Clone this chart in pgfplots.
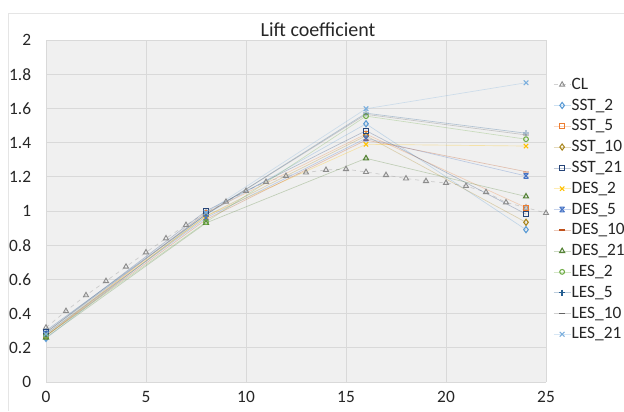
\documentclass[border=0pt]{standalone}
\usepackage{pgfplots}
\pgfplotsset{compat=1.18}
\usepackage{fontspec}
\setmainfont{Carlito}
\definecolor{cCL}{HTML}{A5A5A5}
\definecolor{cS2}{HTML}{5B9BD5}
\definecolor{cS5}{HTML}{ED7D31}
\definecolor{cS10}{HTML}{A8841A}
\definecolor{cS21}{HTML}{264478}
\definecolor{cD2}{HTML}{FFC000}
\definecolor{cD5}{HTML}{4472C4}
\definecolor{cD10}{HTML}{C0501A}
\definecolor{cD21}{HTML}{548235}
\definecolor{cL2}{HTML}{70AD47}
\definecolor{cL5}{HTML}{255E91}
\definecolor{cL10}{HTML}{636363}
\definecolor{cL21}{HTML}{7CAFDD}
\pgfdeclareplotmark{hourglass}{%
  \pgfpathmoveto{\pgfqpoint{-\pgfplotmarksize}{\pgfplotmarksize}}%
  \pgfpathlineto{\pgfqpoint{\pgfplotmarksize}{-\pgfplotmarksize}}%
  \pgfpathmoveto{\pgfqpoint{\pgfplotmarksize}{\pgfplotmarksize}}%
  \pgfpathlineto{\pgfqpoint{-\pgfplotmarksize}{-\pgfplotmarksize}}%
  \pgfpathmoveto{\pgfqpoint{-\pgfplotmarksize}{\pgfplotmarksize}}%
  \pgfpathlineto{\pgfqpoint{\pgfplotmarksize}{\pgfplotmarksize}}%
  \pgfpathmoveto{\pgfqpoint{-\pgfplotmarksize}{-\pgfplotmarksize}}%
  \pgfpathlineto{\pgfqpoint{\pgfplotmarksize}{-\pgfplotmarksize}}%
  \pgfusepathqstroke}
\pgfplotsset{
  ser/.style 2 args={color=#1, line width=0.5pt, draw opacity=0.3,
    mark=#2, mark options={solid, draw opacity=1, fill=white, line width=0.8pt}},
  every axis title shift/.style={},
}
\begin{document}
\begin{tikzpicture}
\path[use as bounding box] (-34.5pt,-21.75pt) rectangle (433.5pt,286.5pt);
\draw[black!10, line width=0.6pt] (-28.5pt,-21.75pt) -- (-28.5pt,276.75pt) -- (433.5pt,276.75pt);
\begin{axis}[
  scale only axis, width=375pt, height=256.5pt,
  xmin=0, xmax=25, ymin=0, ymax=2,
  xtick={0,5,...,25}, ytick={0,0.2,...,2.01},
  grid=major, major grid style={black!15, line width=0.6pt},
  axis line style={draw=none}, major tick length=0pt,
  axis background/.style={fill=black!6},
  /pgf/number format/assume math mode=true,
  tick label style={font=\fontsize{13}{15}\selectfont, text=black!85},
  yticklabel style={anchor=east, inner sep=0pt, xshift=-11pt},
  xticklabel style={anchor=north, inner sep=0pt, yshift=-6.8pt},
  title={Lift coefficient},
  title style={at={(0.544,1.035)}, anchor=center, inner sep=0pt, yshift=-7.5pt,
    font=\fontsize{15}{18}\selectfont, text=black!85},
  legend style={at={(1.014,0.9006)}, anchor=north west, draw=none, fill=none,
    font=\fontsize{13}{15}\selectfont, text=black!85, row sep=0pt, column sep=0pt,
    inner sep=0pt,
    nodes={inner ysep=1.3pt, inner xsep=0.5pt, text height=10pt, text depth=3pt}},
  legend cell align=left,
  legend image code/.code={\draw[#1, mark=none] (0pt,0pt) -- (12.75pt,0pt);
    \draw[#1, draw opacity=1] plot coordinates {(6.4pt,0pt)};},
]
\addplot[color=cCL, line width=0.5pt, draw opacity=0.5, dashed, mark=triangle,
  mark options={solid, draw opacity=1, draw=black!45, fill=white, line width=0.7pt}, mark size=2.2pt]
coordinates {(0,0.318)(1,0.415)(2,0.507)(3,0.59)(4,0.674)(5,0.758)(6,0.84)(7,0.918)(8,0.99)(9,1.054)(10,1.117)(11,1.17)(12,1.205)(13,1.225)(14,1.24)(15,1.245)(16,1.228)(17,1.21)(18,1.19)(19,1.175)(20,1.164)(21,1.146)(22,1.11)(23,1.05)(24,1.02)(25,0.988)};
\addlegendentry{CL}
\addplot[ser={cS2}{diamond}, mark size=2.3pt] coordinates {(0,0.255)(8,0.98)(16,1.51)(24,0.891)};
\addlegendentry{SST\_2}
\addplot[ser={cS5}{square}, mark size=1.9pt] coordinates {(0,0.27)(8,0.99)(16,1.45)(24,1.02)};
\addlegendentry{SST\_5}
\addplot[ser={cS10}{diamond}, mark size=2.3pt] coordinates {(0,0.27)(8,0.97)(16,1.44)(24,0.934)};
\addlegendentry{SST\_10}
\addplot[ser={cS21}{square}, mark size=1.9pt] coordinates {(0,0.29)(8,1.0)(16,1.47)(24,0.982)};
\addlegendentry{SST\_21}
\addplot[ser={cD2}{x}, mark size=2.3pt] coordinates {(0,0.28)(8,0.97)(16,1.39)(24,1.38)};
\addlegendentry{DES\_2}
\addplot[ser={cD5}{hourglass}, mark size=1.8pt] coordinates {(0,0.28)(8,0.96)(16,1.425)(24,1.205)};
\addlegendentry{DES\_5}
\addplot[ser={cD10}{-}, mark size=2.2pt, mark options={line width=1.3pt}] coordinates {(0,0.27)(8,0.95)(16,1.415)(24,1.23)};
\addlegendentry{DES\_10}
\addplot[ser={cD21}{triangle}, mark size=2.2pt] coordinates {(0,0.26)(8,0.93)(16,1.308)(24,1.085)};
\addlegendentry{DES\_21}
\addplot[ser={cL2}{o}, mark size=1.8pt] coordinates {(0,0.27)(8,0.935)(16,1.555)(24,1.42)};
\addlegendentry{LES\_2}
\addplot[ser={cL5}{+}, mark size=2.3pt, mark options={line width=1.1pt}] coordinates {(0,0.3)(8,0.98)(16,1.572)(24,1.455)};
\addlegendentry{LES\_5}
\addplot[ser={cL10}{-}, mark size=2.2pt, mark options={line width=1.3pt}] coordinates {(0,0.29)(8,0.98)(16,1.565)(24,1.445)};
\addlegendentry{LES\_10}
\addplot[ser={cL21}{x}, mark size=2.5pt] coordinates {(0,0.28)(8,0.99)(16,1.598)(24,1.75)};
\addlegendentry{LES\_21}
\end{axis}
\end{tikzpicture}
\end{document}
